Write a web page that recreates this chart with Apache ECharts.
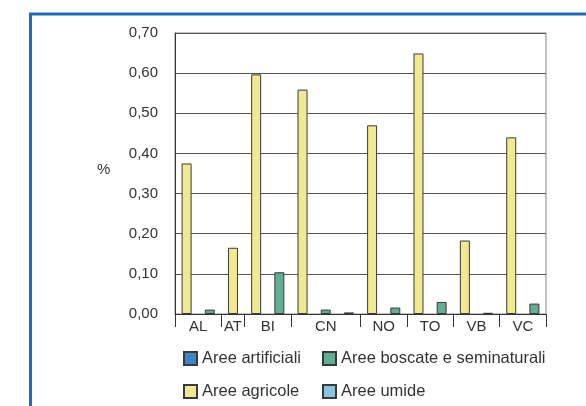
<!DOCTYPE html>
<html>
<head>
<meta charset="utf-8">
<script src="https://cdn.jsdelivr.net/npm/echarts@6/dist/echarts.min.js"></script>
<style>
  html, body { margin: 0; padding: 0; background: #fff; }
  #chart { width: 586px; height: 406px; }
</style>
</head>
<body>
<div id="chart"></div>
<script>
// province groups and how many bar slots each one spans on the x axis
var regions = ['AL', 'AT', 'BI', 'CN', 'NO', 'TO', 'VB', 'VC'];
var regionSlots = [2, 1, 2, 3, 2, 2, 2, 2];

// one value per slot (16 slots), '-' = no bar
var artificiali = ['-', '-', '-', '-', '-', '-', '-', '-', '-', '-', '-', '-', '-', '-', '-', '-'];
var agricole = [0.375, '-', 0.165, 0.597, '-', 0.559, '-', '-', 0.47, '-', 0.649, '-', 0.183, '-', 0.44, '-'];
var boscate = ['-', 0.011, '-', '-', 0.104, '-', 0.011, '-', '-', 0.016, '-', 0.03, '-', '-', '-', 0.026];
var umide = ['-', '-', '-', '-', '-', '-', '-', 0.004, '-', '-', '-', '-', '-', 0.003, '-', '-'];

var yTicks = [0, 0.1, 0.2, 0.3, 0.4, 0.5, 0.6, 0.7];

var slotNames = agricole.map(function (v, i) { return 's' + i; });

// group boundaries and centers in slot units
var bounds = [0];
var centers = [];
regionSlots.forEach(function (n) {
  var start = bounds[bounds.length - 1];
  centers.push(start + n / 2);
  bounds.push(start + n);
});

var font = 'Liberation Sans, Arial, sans-serif';
var txt = '#333';

var chart = echarts.init(document.getElementById('chart'));

function legendAt(name, left, top) {
  return {
    data: [name],
    left: left,
    top: top,
    icon: 'rect',
    itemWidth: 13,
    itemHeight: 13,
    itemGap: 4,
    selectedMode: false,
    textStyle: { fontFamily: font, fontSize: 16.5, color: txt, padding: [0, 0, 0, 0] }
  };
}

function bar(name, data, color) {
  return {
    name: name,
    type: 'bar',
    stack: 'all',
    barWidth: 10,
    data: data,
    itemStyle: { color: color, borderColor: '#3a3a3a', borderWidth: 1 }
  };
}

var option = {
  animation: false,
  backgroundColor: '#fff',
  textStyle: { fontFamily: font },
  grid: { left: 175, right: 40, top: 33, bottom: 92, show: true, borderColor: '#888', borderWidth: 1 },
  legend: [
    legendAt('Aree artificiali', 178, 345),
    legendAt('Aree boscate e seminaturali', 317, 345),
    legendAt('Aree agricole', 178, 378),
    legendAt('Aree umide', 317, 378)
  ],
  xAxis: [
    {
      type: 'category',
      data: slotNames,
      axisLine: { lineStyle: { color: '#333' } },
      axisTick: { show: false },
      axisLabel: { show: false }
    },
    {
      type: 'value',
      position: 'bottom',
      min: 0,
      max: bounds[bounds.length - 1],
      axisLine: { show: false },
      splitLine: { show: false },
      axisTick: {
        show: true,
        length: 13,
        customValues: bounds,
        lineStyle: { color: '#333' }
      },
      axisLabel: {
        customValues: centers,
        margin: 5,
        fontSize: 15,
        color: txt,
        fontFamily: font,
        formatter: function (v) {
          var i = centers.indexOf(v);
          return i >= 0 ? regions[i] : '';
        }
      }
    }
  ],
  yAxis: {
    type: 'value',
    min: yTicks[0],
    max: yTicks[yTicks.length - 1],
    interval: 0.1,
    axisLine: { show: true, lineStyle: { color: '#333' } },
    axisTick: { show: false },
    splitLine: { lineStyle: { color: '#555' } },
    axisLabel: {
      margin: 17,
      fontSize: 15,
      color: txt,
      fontFamily: font,
      formatter: function (v) { return v.toFixed(2).replace('.', ','); }
    }
  },
  graphic: [
    {
      type: 'rect',
      shape: { x: 30.5, y: 14, width: 700, height: 600 },
      style: { fill: 'none', stroke: '#1f6cb8', lineWidth: 3 },
      silent: true
    },
    {
      type: 'text',
      left: 97,
      top: 162,
      style: { text: '%', fontSize: 15, fill: txt, fontFamily: font }
    }
  ],
  series: [
    bar('Aree artificiali', artificiali, '#3a86c8'),
    bar('Aree agricole', agricole, '#f2e88f'),
    bar('Aree boscate e seminaturali', boscate, '#62ad95'),
    bar('Aree umide', umide, '#8cc4de')
  ]
};

chart.setOption(option);
</script>
</body>
</html>
